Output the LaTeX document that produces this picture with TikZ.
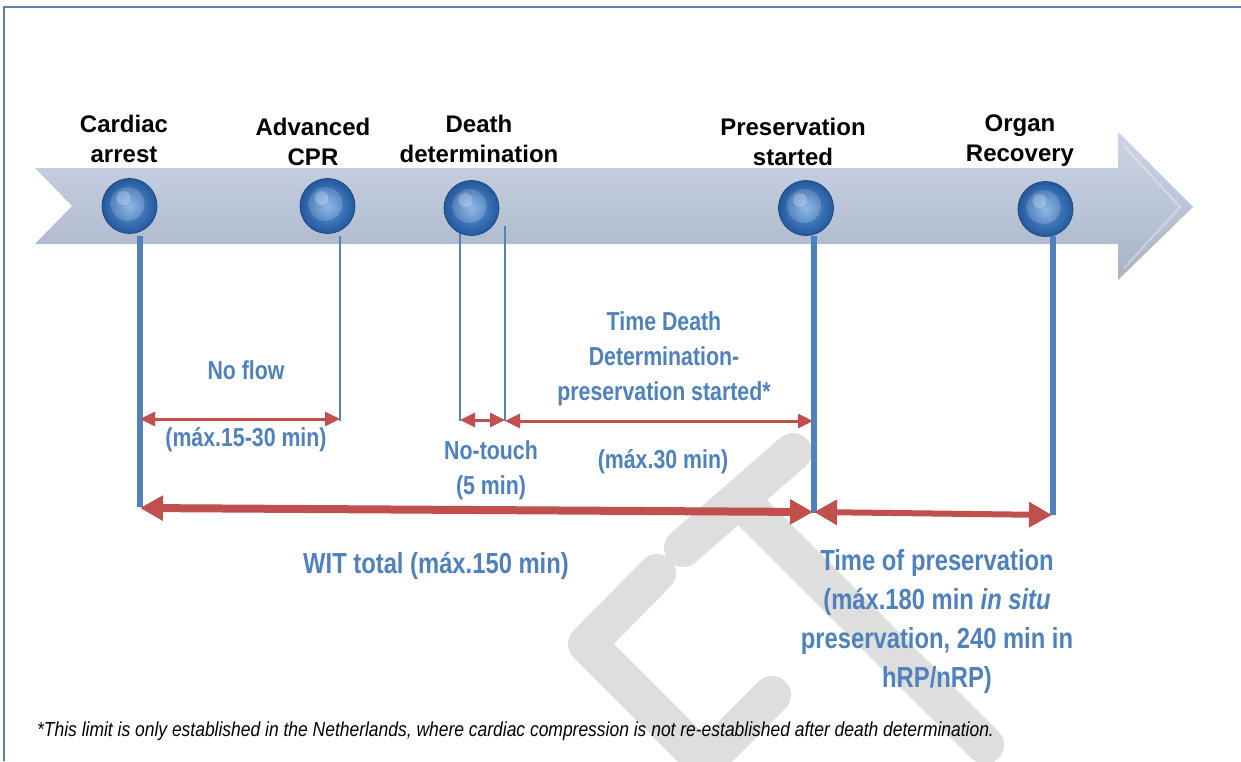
\documentclass[tikz,border=0pt]{standalone}
\usepackage{fontspec}
\setmainfont{Liberation Sans}
\newfontfamily\narrowfont{Liberation Sans}[FakeStretch=0.82]
\newfontfamily\notefont{Liberation Sans}[FakeStretch=0.86]
\usetikzlibrary{arrows.meta,calc}
\definecolor{tlblue}{HTML}{4F81BD}
\definecolor{tlred}{HTML}{C0504D}
\definecolor{wmgray}{HTML}{DEDEDE}
\definecolor{framecol}{HTML}{5B7FB5}
\definecolor{ballrim}{HTML}{1E4A85}
\definecolor{ballin}{HTML}{5C9BDD}
\definecolor{ballout}{HTML}{24589C}
\definecolor{arrtop}{HTML}{CBD5E5}
\definecolor{arrmid}{HTML}{BAC5D7}
\definecolor{arrbot}{HTML}{A7B2C4}
\colorlet{ballhi}{ballin!70!white}
\colorlet{balllo}{ballout!90!white}
\begin{document}
\begin{tikzpicture}[x=1pt,y=-1pt,
  wm/.style={draw=wmgray,line width=38pt,line cap=round,line join=round},
  ballnode/.style={circle,minimum size=55pt,inner sep=0pt,draw=ballrim,line width=0.8pt,
    inner color=ballin,outer color=ballout,
    path picture={
      \shade[inner color=ballhi,outer color=balllo] ($(path picture bounding box.center)+(-2,-2)$) circle (17pt);
      \fill[white,opacity=0.25] ($(path picture bounding box.center)+(-6,-8)$) circle (7pt);
    }},
  toplbl/.style={font=\bfseries\fontsize{24}{30}\selectfont,align=center,text=black,inner sep=0pt},
  bluelbl/.style={font=\narrowfont\bfseries\fontsize{26}{35}\selectfont,align=center,text=tlblue,inner sep=0pt},
  biglbl/.style={font=\narrowfont\bfseries\fontsize{29}{39}\selectfont,align=center,text=tlblue,inner sep=0pt},
  thintick/.style={draw=tlblue,line width=2pt},
  thicktick/.style={draw=tlblue,line width=6pt},
  redthin/.style={draw=tlred,line width=3pt,{Triangle[length=15pt,width=14pt]}-{Triangle[length=15pt,width=14pt]}},
  redthick/.style={draw=tlred,line width=8pt,{Triangle[length=23pt,width=24pt]}-{Triangle[length=23pt,width=24pt]}},
  redmid/.style={draw=tlred,line width=6pt,{Triangle[length=23pt,width=24pt]}-{Triangle[length=23pt,width=24pt]}},
]
\useasboundingbox (0,0) rectangle (1241,761);
\fill[white] (0,0) rectangle (1241,761);

% watermark
\draw[wm] (683,548) -- (793,452);
\draw[wm] (740,500) -- (985,745);
\draw[wm] (657,573) -- (587,644) -- (705,762) -- (772,695);

% frame
\draw[framecol,line width=1.5pt] (4,761) -- (4,7) -- (1241,7);

% big arrow
\shade[top color=arrtop,bottom color=arrbot,middle color=arrmid]
  (35,168) -- (1118,168) -- (1118,132) -- (1193,207) -- (1118,280) -- (1118,244) -- (35,244) -- (72,206) -- cycle;
\draw[white,opacity=0.35,line width=2pt] (1124,146) -- (1180,207) -- (1124,268);

% coordinates for tick lines
\coordinate (caT) at (139.5,236);  \coordinate (caB) at (139.5,507);
\coordinate (cpT) at (340,236);    \coordinate (cpB) at (340,421);
\coordinate (d1T) at (460,226);    \coordinate (d1B) at (460,421);
\coordinate (d2T) at (505,226);    \coordinate (d2B) at (505,421);
\coordinate (psT) at (814,236);    \coordinate (psB) at (814,513);
\coordinate (orT) at (1053,236);   \coordinate (orB) at (1053,515);

% tick lines
\draw[thicktick] (caT) -- (caB);
\draw[thintick] (cpT) -- (cpB);
\draw[thintick] (d1T) -- (d1B);
\draw[thintick] (d2T) -- (d2B);
\draw[thicktick] (psT) -- (psB);
\draw[thicktick] (orT) -- (orB);

% balls
\node[ballnode] (bca) at (129.5,206) {};
\node[ballnode] (bcp) at (327.5,206) {};
\node[ballnode] (bdd) at (471.5,208) {};
\node[ballnode] (bps) at (806,208) {};
\node[ballnode] (bor) at (1045.5,209) {};

% top labels
\node[toplbl] (lca) at (124,139) {Cardiac\\arrest};
\node[toplbl] (lcp) at (313,142) {Advanced\\CPR};
\node[toplbl] (ldd) at (479,139) {Death\\determination};
\node[toplbl] (lps) at (793,142) {Preservation\\started};
\node[toplbl] (lor) at (1020,141) {Organ\\Recovery};

% red arrows
\coordinate (nfL) at (140,419);  \coordinate (nfR) at (340,419);
\coordinate (ntL) at (460,420);  \coordinate (ntR) at (505,420);
\coordinate (tdL) at (505,421);  \coordinate (tdR) at (813,421);
\coordinate (wL) at (140,508);   \coordinate (wR) at (813,512);
\coordinate (pL) at (814,512);   \coordinate (pR) at (1052,515);
\draw[redthin] (nfL) -- (nfR);
\draw[redthin] (ntL) -- (ntR);
\draw[redthin] (tdL) -- (tdR);
\draw[redthick] (wL) -- (wR);
\draw[redmid] (pL) -- (pR);

% blue labels
\node[bluelbl] (nf) at (246,370) {No flow};
\node[bluelbl] (nfm) at (246,440) {(máx.15-30 min)};
\node[bluelbl] (nt) at (491,470) {No-touch\\(5 min)};
\node[bluelbl] (td) at (664,359) {Time Death\\Determination-\\preservation started*};
\node[bluelbl] (tdm) at (663,462) {(máx.30 min)};
\node[biglbl] (wit) at (436,566) {WIT total (máx.150 min)};
\node[biglbl] (tp) at (937,621) {Time of preservation\\(máx.180 min \textit{in situ}\\preservation, 240 min in\\hRP/nRP)};

% footnote
\node[anchor=west,inner sep=0pt,font=\notefont\itshape\fontsize{20.3}{24}\selectfont] (fn) at (37,731)
  {*This limit is only established in the Netherlands, where cardiac compression is not re-established after death determination.};
\end{tikzpicture}
\end{document}
